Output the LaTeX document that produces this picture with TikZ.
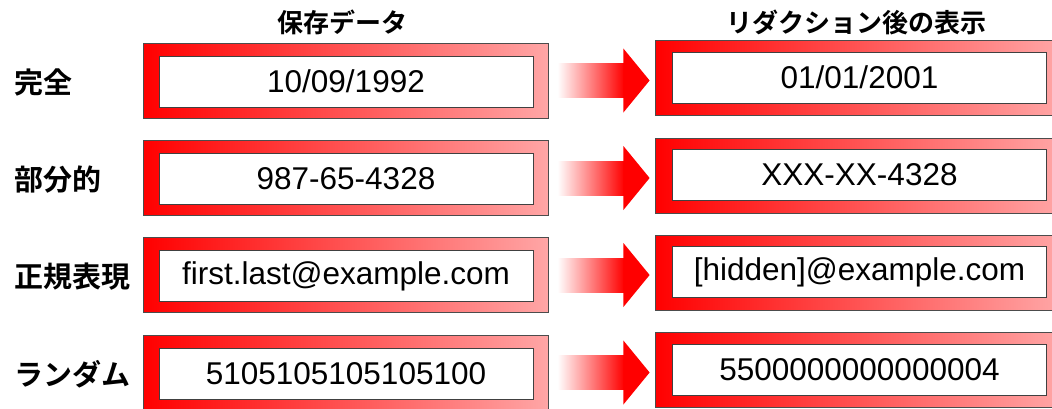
\documentclass[tikz,border=0pt]{standalone}
\usepackage{fontspec}
\setmainfont{Liberation Sans}
\newfontfamily\jpb{Noto Sans CJK JP Bold}
\usetikzlibrary{calc}
\begin{document}
\begin{tikzpicture}[x=1pt,y=-1pt,
  outerbox/.style={draw=black!70, line width=0.8pt, minimum width=405pt, minimum height=75pt, inner sep=0pt, left color=red, middle color=red!75!white, right color=red!35!white},
  innerbox/.style={draw=black!75, fill=white, line width=0.8pt, minimum width=374pt, minimum height=51pt, inner sep=0pt, font=\fontsize{31.5}{31.5}\selectfont},
  rowlabel/.style={anchor=west, inner sep=0pt, font=\jpb\fontsize{29}{29}\selectfont},
  header/.style={inner sep=0pt, font=\jpb\fontsize{26}{26}\selectfont},
  shaft/.style={left color=white, right color=red},
  head/.style={fill=red}
]
\useasboundingbox (0,0) rectangle (1052,408);
\clip (0,0) rectangle (1052,408);
\fill[white] (0,0) rectangle (1052,408);

\node[header] (h1) at (342,22) {保存データ};
\node[header] (h2) at (856,22) {リダクション後の表示};

\foreach \i/\y/\lab/\src/\dst in {
  1/80.5/完全/10\slash 09\slash 1992/01\slash 01\slash 2001,
  2/178/部分的/987-65-4328/XXX-XX-4328,
  3/275/正規表現/first.last@example.com/[hidden]@example.com,
  4/372.5/ランダム/5105105105105100/5500000000000004}{
  \node[rowlabel] (lab\i) at (14,\y+2) {\lab};
  \node[outerbox] (lo\i) at (345.5,\y) {};
  \node[innerbox] (li\i) at (346,\y+1) {\raisebox{-4pt}{\src}};
  \node[outerbox] (ro\i) at (857.5,\y-2.5) {};
  \node[innerbox] (ri\i) at (859.5,\y-3) {\raisebox{-4pt}{\dst}};
  \shade[shaft] ($(lo\i.east)+(9,-17)$) rectangle ($(lo\i.east)+(76,17)$);
  \fill[head] ($(lo\i.east)+(75,-32)$) -- ($(ro\i.west)+(-5,2.5)$) -- ($(lo\i.east)+(75,32)$) -- cycle;
}
\end{tikzpicture}
\end{document}
